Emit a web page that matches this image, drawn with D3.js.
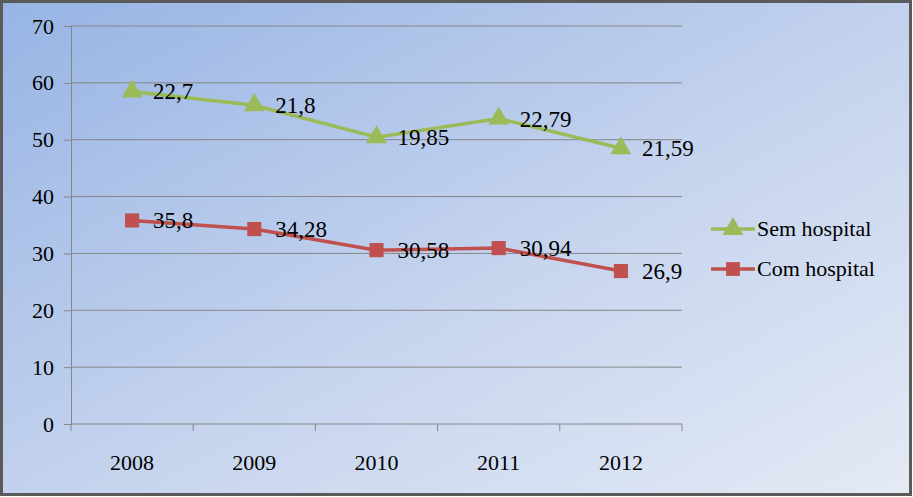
<!DOCTYPE html>
<html>
<head>
<meta charset="utf-8">
<script src="https://cdnjs.cloudflare.com/ajax/libs/d3/7.8.5/d3.min.js"></script>
<style>
  body { margin: 0; background: #fff; }
</style>
</head>
<body>
<script>
// chart data
const years = ["2008", "2009", "2010", "2011", "2012"];
const comHospital = [35.8, 34.28, 30.58, 30.94, 26.9];
const semHospital = [22.7, 21.8, 19.85, 22.79, 21.59];
const yTicks = [0, 10, 20, 30, 40, 50, 60, 70];
const seriesNames = ["Sem hospital", "Com hospital"];

const W = 913, H = 497;
const margin = { top: 26, right: 231, bottom: 73, left: 71 };
const width = W - margin.left - margin.right,
    height = H - margin.top - margin.bottom;
const serif = "Liberation Serif, Tinos, DejaVu Serif, serif";

const svg = d3.select("body").append("svg")
    .attr("width", W)
    .attr("height", H);

// background gradient
const defs = svg.append("defs");
const grad = defs.append("linearGradient")
    .attr("id", "bg")
    .attr("x1", "0%").attr("y1", "0%")
    .attr("x2", "100%").attr("y2", "100%");
grad.append("stop").attr("offset", "0%").attr("stop-color", "#97b4e4");
grad.append("stop").attr("offset", "55%").attr("stop-color", "#c6d4ee");
grad.append("stop").attr("offset", "100%").attr("stop-color", "#e4eaf5");

svg.append("rect")
    .attr("x", 1.5).attr("y", 1.5)
    .attr("width", W - 4).attr("height", H - 4)
    .attr("fill", "url(#bg)")
    .attr("stroke", "#5a5a5a")
    .attr("stroke-width", 3);

const g = svg.append("g")
    .attr("transform", "translate(" + margin.left + "," + margin.top + ")");

const x = d3.scaleBand().domain(years).range([0, width]);
const y = d3.scaleLinear().domain([0, 70]).range([height, 0]);

// gridlines
g.selectAll(".grid")
    .data(yTicks.slice(1))
    .enter().append("line")
    .attr("x1", 0).attr("x2", width)
    .attr("y1", d => y(d)).attr("y2", d => y(d))
    .attr("stroke", "#868686")
    .attr("stroke-width", 1);

// y axis
const yAxis = g.append("g")
    .call(d3.axisLeft(y).tickValues(yTicks).tickSize(7).tickPadding(10).tickFormat(d3.format("d")));
yAxis.selectAll("text")
    .attr("fill", "#000")
    .style("font-family", serif)
    .style("font-size", "22px");
yAxis.select(".domain").attr("stroke", "#868686");
yAxis.selectAll(".tick line").attr("stroke", "#868686");

// x axis, ticks between categories
const xAxis = g.append("g")
    .attr("transform", "translate(0," + height + ")");
xAxis.append("line")
    .attr("x1", 0).attr("x2", width)
    .attr("stroke", "#868686");
xAxis.selectAll(".xt")
    .data(years.concat(["end"]))
    .enter().append("line")
    .attr("x1", (d, i) => i * x.step())
    .attr("x2", (d, i) => i * x.step())
    .attr("y1", 0).attr("y2", 7)
    .attr("stroke", "#868686");
xAxis.selectAll(".xl")
    .data(years)
    .enter().append("text")
    .attr("x", d => x(d) + x.bandwidth() / 2)
    .attr("y", 46)
    .attr("text-anchor", "middle")
    .style("font-family", serif)
    .style("font-size", "22px")
    .text(d => d);

// sem hospital is plotted stacked on top of com hospital
const semStacked = semHospital.map((v, i) => v + comHospital[i]);

const line = d3.line()
    .x((d, i) => x(years[i]) + x.bandwidth() / 2)
    .y(d => y(d));

const fmt = v => String(v).replace(".", ",");

function drawSeries(vals, labels, color, shape) {
    g.append("path")
        .datum(vals)
        .attr("fill", "none")
        .attr("stroke", color)
        .attr("stroke-width", 3.5)
        .attr("d", line);
    g.selectAll(null)
        .data(vals)
        .enter().append("path")
        .attr("transform", (d, i) => "translate(" + (x(years[i]) + x.bandwidth() / 2) + "," + y(d) + ")")
        .attr("d", d3.symbol().type(shape).size(shape === d3.symbolSquare ? 200 : 190))
        .attr("fill", color);
    g.selectAll(null)
        .data(vals)
        .enter().append("text")
        .attr("x", (d, i) => x(years[i]) + x.bandwidth() / 2 + 21)
        .attr("y", d => y(d) + 8)
        .style("font-family", serif)
        .style("font-size", "23px")
        .text((d, i) => fmt(labels[i]));
}

drawSeries(semStacked, semHospital, "#9bbb59", d3.symbolTriangle);
drawSeries(comHospital, comHospital, "#c0504d", d3.symbolSquare);

// legend
const legend = svg.append("g").attr("transform", "translate(711,229)");
const legendColors = ["#9bbb59", "#c0504d"];
const legendShapes = [d3.symbolTriangle, d3.symbolSquare];
seriesNames.forEach((name, i) => {
    const row = legend.append("g").attr("transform", "translate(0," + i * 40 + ")");
    row.append("line")
        .attr("x1", 0).attr("x2", 44)
        .attr("stroke", legendColors[i]).attr("stroke-width", 3.5);
    row.append("path")
        .attr("transform", "translate(22,0)")
        .attr("d", d3.symbol().type(legendShapes[i]).size(190))
        .attr("fill", legendColors[i]);
    row.append("text")
        .attr("x", 46).attr("y", 7)
        .style("font-family", serif)
        .style("font-size", "22px")
        .text(name);
});
</script>
</body>
</html>
